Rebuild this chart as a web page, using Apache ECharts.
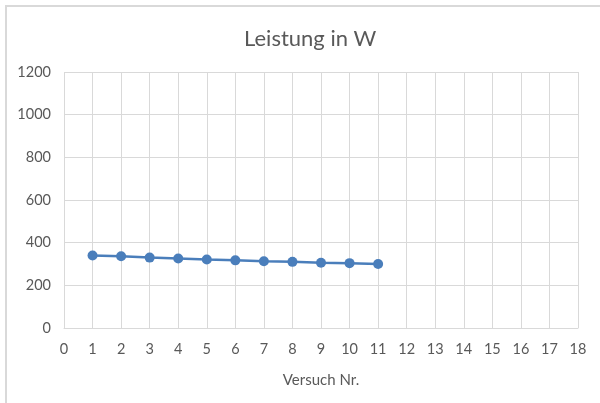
<!DOCTYPE html>
<html>
<head>
<meta charset="utf-8">
<script src="https://cdn.jsdelivr.net/npm/echarts@6/dist/echarts.min.js"></script>
<style>
  html, body { margin: 0; padding: 0; background: #fff; }
  #chart { width: 600px; height: 403px; }
</style>
</head>
<body>
<div id="chart"></div>
<script>
    // Versuch Nr. and measured power in W
    const versuch = [1, 2, 3, 4, 5, 6, 7, 8, 9, 10, 11];
    const leistung = [340, 336, 330, 326, 321, 317, 313, 310, 306, 304, 300];

    const xMin = 0, xMax = 18, xStep = 1;
    const yMin = 0, yMax = 1200, yStep = 200;

    const textColor = "#595959";
    const gridColor = "#d9d9d9";
    const lineColor = "#4a7ebb";

    let chart = echarts.init(document.getElementById("chart"), null, { renderer: "canvas" });

    chart.setOption({
        animation: false,
        textStyle: { fontFamily: "Lato" },
        title: {
            text: "Leistung in W",
            left: 239,
            top: 23,
            textStyle: { fontSize: 22, fontWeight: "normal", color: textColor, fontFamily: "Lato" }
        },
        graphic: [
            // outer chart border (top and left edge visible)
            { type: "line", shape: { x1: 5, y1: 6, x2: 600, y2: 6 }, style: { stroke: gridColor, lineWidth: 2 } },
            { type: "line", shape: { x1: 6, y1: 6, x2: 6, y2: 403 }, style: { stroke: gridColor, lineWidth: 2 } }
        ],
        grid: { left: 64, right: 22, top: 72, bottom: 75, containLabel: false },
        xAxis: {
            type: "value",
            min: xMin, max: xMax, interval: xStep,
            name: "Versuch Nr.",
            nameLocation: "middle",
            nameGap: 45,
            nameTextStyle: { color: textColor, fontSize: 15 },
            axisLine: { show: true, lineStyle: { color: gridColor } },
            axisTick: { show: false },
            axisLabel: { color: textColor, fontSize: 14.5, margin: 14 },
            splitLine: { show: true, lineStyle: { color: gridColor } }
        },
        yAxis: {
            type: "value",
            min: yMin, max: yMax, interval: yStep,
            axisLine: { show: false },
            axisTick: { show: false },
            axisLabel: { color: textColor, fontSize: 14.5, margin: 13, formatter: v => String(v) },
            splitLine: { show: true, lineStyle: { color: gridColor } }
        },
        series: [{
            type: "line",
            data: versuch.map((v, i) => [v, leistung[i]]),
            symbol: "circle",
            symbolSize: 10,
            itemStyle: { color: lineColor },
            lineStyle: { color: lineColor, width: 2.5 }
        }]
    });
</script>
</body>
</html>
